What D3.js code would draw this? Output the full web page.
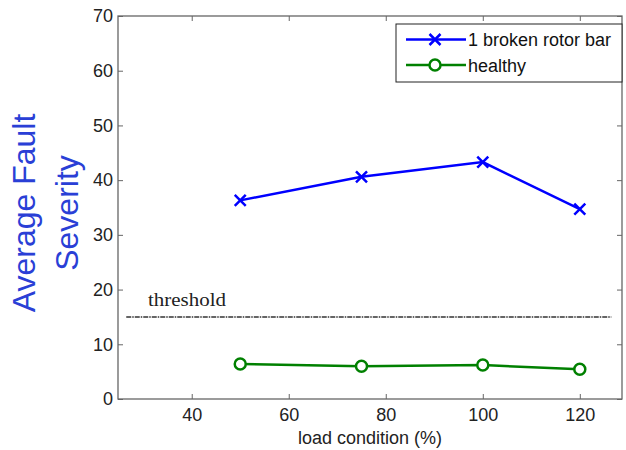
<!DOCTYPE html>
<html>
<head>
<meta charset="utf-8">
<script src="https://cdn.jsdelivr.net/npm/d3@7"></script>
<style>
  body { margin: 0; background: #fff; }
  svg text { font-family: "Liberation Sans", Arial, sans-serif; }
</style>
</head>
<body>
<div id="chart"></div>
<script>
const loads = [50, 75, 100, 120];
const broken = [36.3, 40.6, 43.3, 34.7];
const healthy = [6.4, 6.0, 6.2, 5.45];
const threshold = 15;
const thresholdRange = [26.5, 126.5];
const xTicks = [40, 60, 80, 100, 120];
const yTicks = [0, 10, 20, 30, 40, 50, 60, 70];

const width = 626, height = 450;
const margin = { top: 16, right: 4, bottom: 51, left: 118 };
const iw = width - margin.left - margin.right,
      ih = height - margin.top - margin.bottom;

const svg = d3.select("#chart").append("svg")
    .attr("width", width)
    .attr("height", height);

const g = svg.append("g")
    .attr("transform", `translate(${margin.left},${margin.top})`);

const x = d3.scaleLinear().domain([24.8, 128.7]).range([0, iw]);
const y = d3.scaleLinear().domain([0, 70]).range([ih, 0]);

const axisColor = "#666";

// box with inward ticks on all sides
function styleAxis(sel, showText) {
    sel.select(".domain").remove();
    sel.selectAll(".tick line").attr("stroke", axisColor).attr("stroke-width", 1);
    sel.selectAll(".tick text")
        .attr("fill", showText ? "#222" : "none")
        .style("font-size", "18px");
}

g.append("g").attr("transform", `translate(0,${ih})`)
    .call(d3.axisBottom(x).tickValues(xTicks).tickSize(-5).tickPadding(9))
    .call(s => styleAxis(s, true));
g.append("g")
    .call(d3.axisTop(x).tickValues(xTicks).tickSize(-5).tickFormat(""))
    .call(s => styleAxis(s, false));
g.append("g")
    .call(d3.axisLeft(y).tickValues(yTicks).tickSize(-5).tickPadding(5))
    .call(s => styleAxis(s, true));
g.append("g").attr("transform", `translate(${iw},0)`)
    .call(d3.axisRight(y).tickValues(yTicks).tickSize(-5).tickFormat(""))
    .call(s => styleAxis(s, false));

g.append("rect")
    .attr("width", iw).attr("height", ih)
    .attr("fill", "none")
    .attr("stroke", axisColor)
    .attr("stroke-width", 1.3);

// threshold
g.append("line")
    .attr("x1", x(thresholdRange[0])).attr("x2", x(thresholdRange[1]))
    .attr("y1", y(threshold)).attr("y2", y(threshold))
    .attr("stroke", "#333")
    .attr("stroke-width", 1.5)
    .attr("stroke-dasharray", "5,1,1.5,1");

g.append("text")
    .attr("x", 30)
    .attr("y", y(threshold) - 10.5)
    .attr("textLength", 78)
    .attr("lengthAdjust", "spacingAndGlyphs")
    .style("font-family", "'Liberation Serif', 'Times New Roman', serif")
    .style("font-size", "18px")
    .attr("fill", "#222")
    .text("threshold");

const line = d3.line().x(d => x(d[0])).y(d => y(d[1]));

const blue = "#0000ff", green = "#008000";

g.append("path")
    .datum(loads.map((l, i) => [l, broken[i]]))
    .attr("d", line)
    .attr("fill", "none")
    .attr("stroke", blue)
    .attr("stroke-width", 2.5);

function cross(sel, s) {
    sel.append("path")
        .attr("d", `M${-s},${-s}L${s},${s}M${-s},${s}L${s},${-s}`)
        .attr("stroke", blue)
        .attr("stroke-width", 2.5);
}

g.selectAll(".bx")
    .data(loads.map((l, i) => [l, broken[i]]))
    .enter().append("g")
    .attr("transform", d => `translate(${x(d[0])},${y(d[1])})`)
    .call(cross, 5.5);

g.append("path")
    .datum(loads.map((l, i) => [l, healthy[i]]))
    .attr("d", line)
    .attr("fill", "none")
    .attr("stroke", green)
    .attr("stroke-width", 2.5);

g.selectAll(".hc")
    .data(loads.map((l, i) => [l, healthy[i]]))
    .enter().append("circle")
    .attr("cx", d => x(d[0]))
    .attr("cy", d => y(d[1]))
    .attr("r", 5.5)
    .attr("fill", "#fff")
    .attr("stroke", green)
    .attr("stroke-width", 2.5);

// legend
const lg = svg.append("g").attr("transform", "translate(396,24)");
lg.append("rect")
    .attr("width", 226).attr("height", 58)
    .attr("fill", "#fff")
    .attr("stroke", "#222")
    .attr("stroke-width", 1);

const legendItems = [
    { label: "1 broken rotor bar", color: blue, marker: "x" },
    { label: "healthy", color: green, marker: "o" }
];
legendItems.forEach((d, i) => {
    const row = lg.append("g").attr("transform", `translate(0,${15.5 + i * 25.5})`);
    row.append("line")
        .attr("x1", 10).attr("x2", 70)
        .attr("stroke", d.color).attr("stroke-width", 2.5);
    if (d.marker === "x") {
        row.append("g").attr("transform", "translate(39,0)").call(cross, 5.5);
    } else {
        row.append("circle")
            .attr("cx", 39).attr("r", 5.5)
            .attr("fill", "#fff")
            .attr("stroke", d.color).attr("stroke-width", 2.5);
    }
    row.append("text")
        .attr("x", 72).attr("y", 6.5)
        .style("font-size", "18px")
        .attr("fill", "#111")
        .text(d.label);
});

// axis labels
svg.append("text")
    .attr("x", margin.left + iw / 2)
    .attr("y", 444)
    .attr("text-anchor", "middle")
    .style("font-size", "18px")
    .attr("fill", "#222")
    .text("load condition (%)");

const yl = svg.append("text")
    .attr("transform", "translate(35,213) rotate(-90)")
    .attr("text-anchor", "middle")
    .style("font-size", "32px")
    .attr("fill", "#2a3fd6");
yl.append("tspan").attr("x", 0).attr("y", 0).text("Average Fault");
yl.append("tspan").attr("x", 0).attr("y", 43).text("Severity");
</script>
</body>
</html>
